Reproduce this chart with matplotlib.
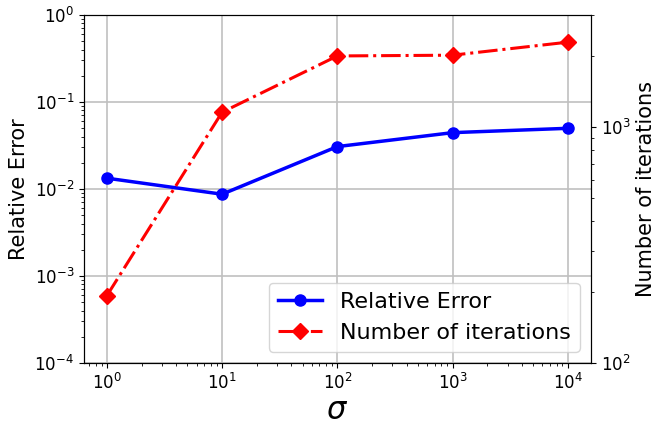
import numpy as np
import matplotlib.pyplot as plt

# Datos
sigma = [1, 10, 100, 1000, 10000]
rel_error = [0.0133, 0.0087, 0.0307, 0.0444, 0.0498]
n_iter = [193, 1160, 2010, 2025, 2300]

fig = plt.figure(figsize=(6.55, 4.28), dpi=100)
ax = fig.add_axes([0.128, 0.152, 0.774, 0.813])
ax2 = ax.twinx()

l1, = ax.plot(sigma, rel_error, '-o', color='blue', lw=2.5, ms=8, label='Relative Error')
l2, = ax2.plot(sigma, n_iter, '-.D', color='red', lw=2.2, ms=8.5, label='Number of iterations')

ax.set_xscale('log')
ax.set_yscale('log')
ax2.set_yscale('log')
ax.set_ylim(1e-4, 1)
ax2.set_ylim(100, 3000)

ax.grid(True, which='major', color='#c0c0c0', lw=1.2)
ax.tick_params(labelsize=12)
ax2.tick_params(labelsize=12)

ax.set_xlabel(r'$\sigma$', fontsize=22, labelpad=2)
ax.set_ylabel('Relative Error', fontsize=15)
ax2.set_ylabel('Number of iterations', fontsize=15)

ax2.legend(handles=[l1, l2], loc='lower right', fontsize=16)

fig.savefig('out.png', dpi=100)
